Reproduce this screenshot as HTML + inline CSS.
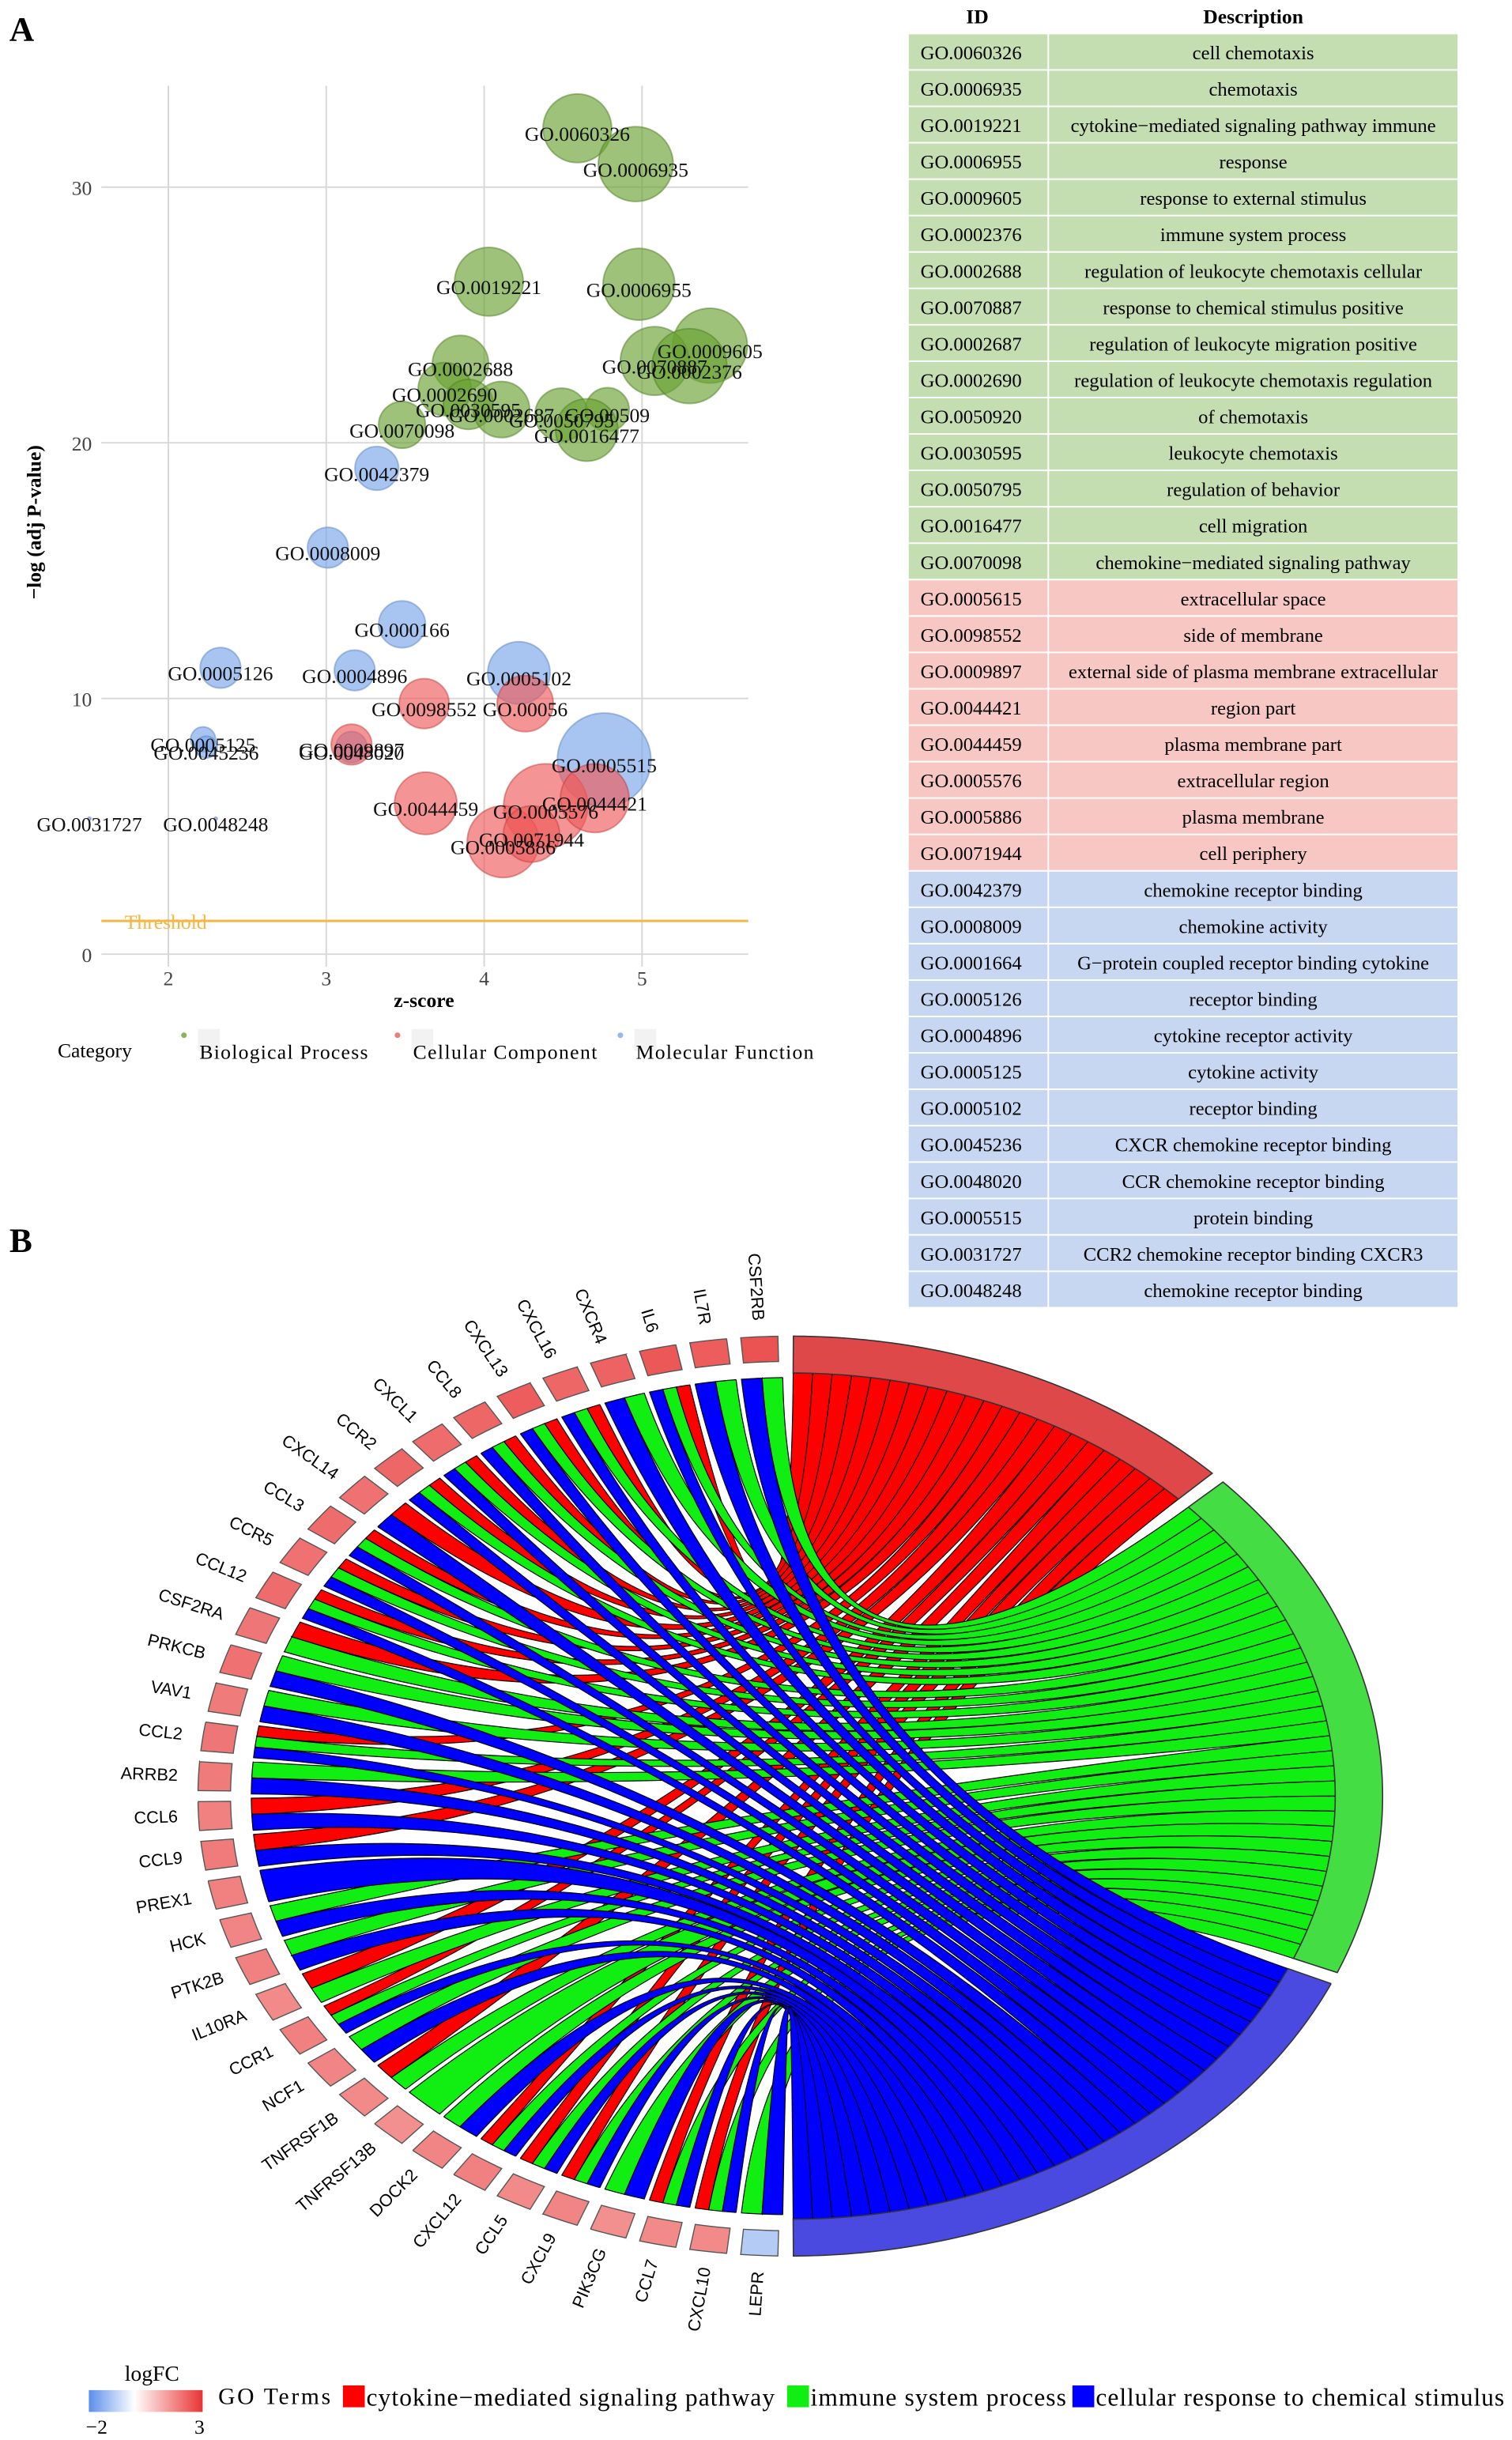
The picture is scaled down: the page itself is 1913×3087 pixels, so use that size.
<!DOCTYPE html>
<html><head><meta charset="utf-8">
<style>
html,body{margin:0;padding:0;background:#fff;}
svg{display:block;}
text{font-family:"Liberation Serif",serif;}
.sans{font-family:"Liberation Sans",sans-serif;}
</style></head>
<body>
<svg id="root" width="1913" height="3087" viewBox="0 0 970 1565" preserveAspectRatio="none" xmlns="http://www.w3.org/2000/svg">
<rect x="0" y="0" width="970" height="1565" fill="#fff"/>
<text x="6" y="26" font-size="22" font-weight="bold">A</text>
<text x="6" y="803" font-size="22" font-weight="bold">B</text>
<g id="bubble"></g>
<g id="table"></g>
<g id="chord"></g>
<g id="legendB"></g>
</svg>
<script>
const NS="http://www.w3.org/2000/svg";
function mk(tag,attrs,parent){const e=document.createElementNS(NS,tag);for(const k in attrs)e.setAttribute(k,attrs[k]);parent.appendChild(e);return e;}

// ---------- Bubble chart data ----------
const goIds=["GO.0060326","GO.0006935","GO.0019221","GO.0006955","GO.0009605","GO.0070887","GO.0002376","GO.0002688","GO.0002690","GO.0030595","GO.0002687","GO.0050795","GO.0050920","GO.0016477","GO.0070098","GO.0042379","GO.0008009","GO.0001664","GO.0005126","GO.0004896","GO.0005102","GO.0005125","GO.0045236","GO.0048020","GO.0005515","GO.0031727","GO.0048248","GO.0098552","GO.0005615","GO.0009897","GO.0044459","GO.0005576","GO.0044421","GO.0005886","GO.0071944"];
const bubbleLabels=["GO.0060326","GO.0006935","GO.0019221","GO.0006955","GO.0009605","GO.0070887","GO.0002376","GO.0002688","GO.0002690","GO.0030595","GO.0002687","GO.0050795","GO.00509","GO.0016477","GO.0070098","GO.0042379","GO.0008009","GO.000166","GO.0005126","GO.0004896","GO.0005102","GO.0005125","GO.0045236","GO.0048020","GO.0005515","GO.0031727","GO.0048248","GO.0098552","GO.00056","GO.0009897","GO.0044459","GO.0005576","GO.0044421","GO.0005886","GO.0071944"];
const zScores=[4.59,4.96,4.03,4.98,5.43,5.08,5.30,3.85,3.75,3.90,4.11,4.49,4.78,4.65,3.48,3.32,3.01,3.48,2.33,3.18,4.22,2.22,2.24,3.16,4.76,1.50,2.30,3.62,4.26,3.16,3.63,4.39,4.70,4.12,4.30];
const logP=[32.3,30.9,26.3,26.2,23.8,23.2,23.0,23.1,22.1,21.5,21.3,21.1,21.3,20.5,20.7,19.0,15.9,12.9,11.2,11.1,11.0,8.4,8.1,8.1,7.6,5.3,5.3,9.8,9.8,8.2,5.9,5.8,6.1,4.4,4.7];
const counts=[22,24,22,23,24,22,24,18,17,16,18,17,14,20,15,14,13,15,13,13,20,8,7,10,30,1,1,16,18,13,20,27,22,23,18];
const cats=["BP","BP","BP","BP","BP","BP","BP","BP","BP","BP","BP","BP","BP","BP","BP","MF","MF","MF","MF","MF","MF","MF","MF","MF","MF","MF","MF","CC","CC","CC","CC","CC","CC","CC","CC"];
const xTicks=[2,3,4,5];
const yTicks=[0,10,20,30];
const thresholdVal=1.3;

const bx=z=>-94.6+101.3*z;
const by=p=>612-16.4*p;
const catFill={BP:"#6aa132",CC:"#ee5a5a",MF:"#7aa6ea"};
const catStroke={BP:"#4f7d22",CC:"#c04040",MF:"#5c84c4"};

const B=document.getElementById('bubble');
xTicks.forEach(t=>{
  const l=mk('line',{x1:bx(t),x2:bx(t),y1:55,y2:620,stroke:"#d8d8d8","stroke-width":1},B);
  
  
  const tx=mk('text',{x:bx(t),y:632,"font-size":13,"text-anchor":"middle",fill:"#444"},B);tx.textContent=t;
  
  
});
yTicks.forEach(t=>{
  const l=mk('line',{x1:65,x2:480,y1:by(t),y2:by(t),stroke:"#d8d8d8","stroke-width":1},B);
  
  
  const tx=mk('text',{x:59,y:by(t)+5,"font-size":13,"text-anchor":"end",fill:"#444"},B);tx.textContent=t;
  
  
});
const th=mk('line',{x1:65,x2:480,y1:by(thresholdVal),y2:by(thresholdVal),stroke:"#f5b642","stroke-width":1.5},B);


const tht=mk('text',{x:80,y:by(thresholdVal)+5,"font-size":13,fill:"#f5b642"},B);tht.textContent="Threshold";


goIds.forEach((id,i)=>{
  const c=mk('circle',{cx:bx(zScores[i]),cy:by(logP[i]),r:counts[i],fill:catFill[cats[i]],"fill-opacity":0.65,stroke:catStroke[cats[i]],"stroke-opacity":0.5,"stroke-width":1},B);
  
  
});
goIds.forEach((id,i)=>{
  const t=mk('text',{x:bx(zScores[i]),y:by(logP[i])+8,"font-size":13,"text-anchor":"middle",fill:"#111"},B);t.textContent=bubbleLabels[i];
  
  
});
const yt=mk('text',{x:26,y:335,"font-size":13,"font-weight":"bold","text-anchor":"middle",transform:"rotate(-90 26 335)"},B);yt.textContent="−log (adj P-value)";


const xt=mk('text',{x:272,y:646,"font-size":13,"font-weight":"bold","text-anchor":"middle"},B);xt.textContent="z-score";


const lg=mk('text',{x:37,y:678,"font-size":13},B);lg.textContent="Category";


const legCats=[["BP","Biological Process",118,108],["CC","Cellular Component",255,118],["MF","Molecular Function",398,114]];
legCats.forEach(([c,n,x,w])=>{
  const r=mk('rect',{x:x+9,y:660,width:14,height:14,fill:"#f2f2f2"},B);
  
  
  const d=mk('circle',{cx:x,cy:664,r:1.8,fill:catFill[c],opacity:0.8},B);
  
  
  const t=mk('text',{x:x+10,y:679,"font-size":13,textLength:w},B);t.textContent=n;
  
  
});

// ---------- Table ----------
const tableIds=["GO.0060326","GO.0006935","GO.0019221","GO.0006955","GO.0009605","GO.0002376","GO.0002688","GO.0070887","GO.0002687","GO.0002690","GO.0050920","GO.0030595","GO.0050795","GO.0016477","GO.0070098","GO.0005615","GO.0098552","GO.0009897","GO.0044421","GO.0044459","GO.0005576","GO.0005886","GO.0071944","GO.0042379","GO.0008009","GO.0001664","GO.0005126","GO.0004896","GO.0005125","GO.0005102","GO.0045236","GO.0048020","GO.0005515","GO.0031727","GO.0048248"];
const tableDesc=["cell chemotaxis","chemotaxis","cytokine−mediated signaling pathway immune","response","response to external stimulus","immune system process","regulation of leukocyte chemotaxis cellular","response to chemical stimulus positive","regulation of leukocyte migration positive","regulation of leukocyte chemotaxis regulation","of chemotaxis","leukocyte chemotaxis","regulation of behavior","cell migration","chemokine−mediated signaling pathway","extracellular space","side of membrane","external side of plasma membrane extracellular","region part","plasma membrane part","extracellular region","plasma membrane","cell periphery","chemokine receptor binding","chemokine activity","G−protein coupled receptor binding cytokine","receptor binding","cytokine receptor activity","cytokine activity","receptor binding","CXCR chemokine receptor binding","CCR chemokine receptor binding","protein binding","CCR2 chemokine receptor binding CXCR3","chemokine receptor binding"];
const T=document.getElementById('table');
const h1=mk('text',{x:627,y:15,"font-size":13,"font-weight":"bold","text-anchor":"middle"},T);h1.textContent="ID";


const h2=mk('text',{x:804,y:15,"font-size":13,"font-weight":"bold","text-anchor":"middle"},T);h2.textContent="Description";


const rowH=23.35;
tableIds.forEach((id,i)=>{
  const col=i<15?"#c5deb1":(i<23?"#f7c7c4":"#c7d6f1");
  const y=22+i*rowH;
  const r1=mk('rect',{x:583,y:y,width:89,height:rowH-1,fill:col},T);
  
  
  const r2=mk('rect',{x:673,y:y,width:262,height:rowH-1,fill:col},T);
  
  
  const t1=mk('text',{x:623,y:y+16,"font-size":12.5,"text-anchor":"middle"},T);t1.textContent=id;
  
  
  const t2=mk('text',{x:804,y:y+16,"font-size":12.5,"text-anchor":"middle"},T);t2.textContent=tableDesc[i];
  
  
});

// ---------- Chord data ----------
const genes=["CSF2RB","IL7R","IL6","CXCR4","CXCL16","CXCL13","CCL8","CXCL1","CCR2","CXCL14","CCL3","CCR5","CCL12","CSF2RA","PRKCB","VAV1","CCL2","ARRB2","CCL6","CCL9","PREX1","HCK","PTK2B","IL10RA","CCR1","NCF1","TNFRSF1B","TNFRSF13B","DOCK2","CXCL12","CCL5","CXCL9","PIK3CG","CCL7","CXCL10","LEPR"];
const logFC=[2.4,2.2,2.3,2.1,2.0,2.2,2.0,1.9,2.0,1.8,1.9,1.8,1.9,1.7,1.8,1.6,1.7,1.6,1.5,1.6,1.5,1.4,1.5,1.3,1.5,1.4,1.3,1.2,1.4,1.5,1.3,1.4,1.2,1.3,1.3,-0.8];
const inCytokine=[0,0,1,0,1,1,1,1,1,1,1,1,1,1,0,0,1,0,1,1,0,0,0,1,1,0,1,0,0,1,1,1,0,1,1,0];
const inImmune=  [1,1,1,1,1,1,1,1,1,0,1,1,1,1,1,1,1,1,0,0,0,1,1,1,1,1,1,1,1,1,1,1,1,1,1,1];
const inChemical=[1,1,1,1,1,1,1,1,1,1,1,1,1,0,1,1,1,1,1,1,1,1,1,0,1,1,0,0,1,1,1,1,1,1,1,1];
const termNames=["cytokine−mediated signaling pathway","immune system process","cellular response to chemical stimulus"];

const cx=507,cy=1152,rx=380,ry=295;
const P=(deg,r)=>{const a=deg*Math.PI/180;return [cx+rx*r*Math.sin(a),cy-ry*r*Math.cos(a)];};
const arcPts=(a1,a2,r)=>{const n=Math.max(2,Math.ceil(Math.abs(a2-a1)/0.5));let s="";for(let k=0;k<=n;k++){const p=P(a1+(a2-a1)*k/n,r);s+=" L"+p[0].toFixed(2)+" "+p[1].toFixed(2);}return s;};
const mem=[inCytokine,inImmune,inChemical];
const termFill=["#de4848","#44dd44","#4a4ae0"];
const chordFill=["#ff0000","#11ee11","#0000ff"];
const C=document.getElementById('chord');
const termCounts=mem.map(a=>a.reduce((s,v)=>s+v,0));
const totalLinks=termCounts.reduce((s,v)=>s+v,0);
const gap=1.5,startA=0.3,endA=179.7;
const unit=(endA-startA-gap*2)/totalLinks;
let cur=startA;const termStart=[];
termCounts.forEach((n,t)=>{termStart.push(cur);cur+=n*unit+gap;});
const gA0=-3,gA1=-177,gStep=(gA1-gA0)/(genes.length-1),gHalf=2.2;
const gCenter=i=>gA0+gStep*i;
const geneLinks=genes.map((g,i)=>[0,1,2].filter(t=>mem[t][i]));
const rG=0.91,rT=0.92;
for(let t=0;t<3;t++){
  let slot=0;
  genes.forEach((g,i)=>{
    if(!mem[t][i])return;
    const b1=termStart[t]+slot*unit,b2=b1+unit;slot++;
    const links=geneLinks[i],k=links.indexOf(t),w=2*gHalf/links.length;
    const a1=gCenter(i)+gHalf-k*w,a2=a1-w;
    const pg1=P(a1,rG),pb1=P(b1,rT),pb2=P(b2,rT),pg2=P(a2,rG);
    let d="M"+pg1[0]+" "+pg1[1]+" Q"+cx+" "+cy+" "+pb1[0]+" "+pb1[1]+arcPts(b1,b2,rT)+" Q"+cx+" "+cy+" "+pg2[0]+" "+pg2[1]+arcPts(a2,a1,rG)+"Z";
    const p=mk('path',{d:d,fill:chordFill[t],stroke:"#000","stroke-width":0.6},C);
    
    
  });
}
termCounts.forEach((n,t)=>{
  const a1=termStart[t],a2=a1+n*unit;
  const d="M"+P(a1,1.0).join(" ")+arcPts(a1,a2,1.0)+arcPts(a2,a1,0.92)+"Z";
  const p=mk('path',{d:d,fill:termFill[t],stroke:"#333","stroke-width":0.8},C);
  
  
});
const fcColor=v=>{let c0=[255,255,255],c1,f;if(v<0){c1=[91,143,235];f=Math.min(1,-v/2)*0.9+0.1;}else{c1=[232,52,52];f=0.25+0.75*Math.min(1,v/3);}return "rgb("+c0.map((c,k)=>Math.round(c+(c1[k]-c)*f)).join(",")+")";};
genes.forEach((g,i)=>{
  const a=gCenter(i),a1=a+1.8,a2=a-1.8;
  const d="M"+P(a1,1.0).join(" ")+arcPts(a1,a2,1.0)+arcPts(a2,a1,0.945)+"Z";
  const p=mk('path',{d:d,fill:fcColor(logFC[i]),stroke:"#555","stroke-width":0.7},C);
  
  
  const q=P(a,1.035),inner=P(a,0.5);
  const ang=Math.atan2(inner[1]-q[1],inner[0]-q[0])*180/Math.PI;
  const t=mk('text',{x:q[0],y:q[1]+3.5,"font-size":11,"text-anchor":"end","class":"sans",transform:"rotate("+ang.toFixed(2)+" "+q[0].toFixed(2)+" "+q[1].toFixed(2)+")"},C);
  t.textContent=g;
  
  
});

// ---------- Legend B ----------
const L=document.getElementById('legendB');
const defs=mk('defs',{},L);
const gr=mk('linearGradient',{id:"fcg",x1:0,x2:1,y1:0,y2:0},defs);
mk('stop',{offset:"0",  "stop-color":"#5b8feb"},gr);
mk('stop',{offset:"0.4","stop-color":"#ffffff"},gr);
mk('stop',{offset:"1",  "stop-color":"#e83434"},gr);
const lt=mk('text',{x:80,y:1527,"font-size":14},L);lt.textContent="logFC";


const gb=mk('rect',{x:57,y:1533,width:73,height:14,fill:"url(#fcg)"},L);


const m2=mk('text',{x:62,y:1561,"font-size":13,"text-anchor":"middle"},L);m2.textContent="−2";


const p3=mk('text',{x:128,y:1561,"font-size":13,"text-anchor":"middle"},L);p3.textContent="3";


const gt=mk('text',{x:140,y:1542,"font-size":15,textLength:72},L);gt.textContent="GO Terms";


const legX=[220,505,688];
const legW=[262,164,262];
termNames.forEach((n,t)=>{
  const r=mk('rect',{x:legX[t],y:1530,width:14,height:14,fill:chordFill[t]},L);
  
  
  const tx=mk('text',{x:legX[t]+15,y:1543,"font-size":16,textLength:legW[t]},L);tx.textContent=n;
  
  
});
</script>
</body></html>
